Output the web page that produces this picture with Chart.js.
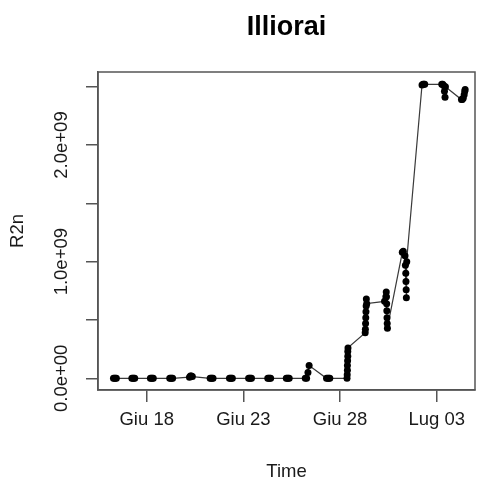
<!DOCTYPE html>
<html><head><meta charset="utf-8">
<script src="https://cdn.jsdelivr.net/npm/chart.js@4"></script>
<style>html,body{margin:0;padding:0;background:#fff;} canvas{display:block}</style>
</head><body>
<canvas id="c" width="479" height="486"></canvas>
<script>
// Time in fractional days (June = day of month, 31 = Lug 01, 33 = Lug 03)
const times = [
  16.28,16.33,16.38,16.43,
  17.23,17.28,17.33,17.38,
  18.19,18.24,18.29,18.34,
  19.19,19.24,19.29,19.34,
  20.21,20.26,20.31,20.36,
  21.28,21.33,21.38,21.43,
  22.28,22.33,22.38,22.43,
  23.27,23.32,23.37,23.42,
  24.26,24.31,24.36,24.41,
  25.22,25.27,25.32,25.37,
  26.20,26.27,26.34,26.40,
  27.30,27.36,27.42,27.47,
  28.36,28.37,28.38,28.38,28.39,28.40,28.40,28.41,
  29.30,29.31,29.32,29.33,29.34,29.35,29.36,29.38,
  30.30,30.37,30.39,30.40,30.41,30.42,30.43,30.44,30.45,
  31.22,31.27,31.36,31.38,31.40,31.41,31.42,31.43,31.45,
  32.24,32.29,32.34,32.38,
  33.26,33.31,33.36,33.40,33.43,33.45,
  34.28,34.32,34.37,34.42,34.45,34.47
];
const r2n = [
  0,0,0,0,
  0,0,0,0,
  0,0,0,0,
  0,0,0,0,
  0.01e9,0.02e9,0.02e9,0.015e9,
  0,0,0,0,
  0,0,0,0,
  0,0,0,0,
  0,0,0,0,
  0,0,0,0,
  0,0,0.05e9,0.11e9,
  0,0,0,0,
  0,0.03e9,0.07e9,0.11e9,0.15e9,0.19e9,0.23e9,0.26e9,
  0.39e9,0.42e9,0.47e9,0.52e9,0.57e9,0.62e9,0.68e9,0.64e9,
  0.66e9,0.70e9,0.74e9,0.70e9,0.64e9,0.58e9,0.52e9,0.47e9,0.43e9,
  1.08e9,1.09e9,1.05e9,0.97e9,0.90e9,0.83e9,0.76e9,0.69e9,1.00e9,
  2.515e9,2.52e9,2.52e9,2.52e9,
  2.52e9,2.52e9,2.51e9,2.46e9,2.41e9,2.50e9,
  2.39e9,2.39e9,2.40e9,2.43e9,2.46e9,2.475e9
];
const xTickValues = [18, 23, 28, 33];
const xTickLabels = ['Giu 18', 'Giu 23', 'Giu 28', 'Lug 03'];
const yTickValues = [0, 0.5e9, 1e9, 1.5e9, 2e9, 2.5e9];
const yTickLabels = ['0.0e+00', '', '1.0e+09', '', '2.0e+09', ''];

const points = times.map((t, i) => ({x: t, y: r2n[i]}));
const FONT = "'Liberation Sans', Arial, Helvetica, sans-serif";
const AXIS = '#555';
const TXT = '#1a1a1a';

const boxPlugin = {
  id: 'box',
  afterDraw(chart) {
    const {ctx, chartArea: a} = chart;
    ctx.save();
    ctx.strokeStyle = AXIS;
    ctx.lineWidth = 1.5;
    ctx.strokeRect(a.left, a.top, a.right - a.left, a.bottom - a.top);
    ctx.restore();
  }
};

new Chart(document.getElementById('c'), {
  type: 'line',
  data: {datasets: [{
    data: points,
    borderColor: '#3a3a3a', borderWidth: 1.2,
    pointRadius: 3.5, pointHoverRadius: 3.5,
    pointBackgroundColor: '#000', pointBorderColor: '#000', pointBorderWidth: 0,
    tension: 0, fill: false
  }]},
  options: {
    responsive: false, devicePixelRatio: 1, animation: false,
    layout: {padding: {left: 0, right: 4, top: 0, bottom: 0}},
    plugins: {
      legend: {display: false},
      tooltip: {enabled: false},
      title: {
        display: true, text: 'Illiorai', fullSize: false, color: '#000',
        font: {family: FONT, size: 27, weight: 'bold', lineHeight: 1.2},
        padding: {top: 11, bottom: 28.6}
      }
    },
    scales: {
      x: {
        type: 'linear', min: 15.48, max: 34.98,
        afterBuildTicks(s) { s.ticks = xTickValues.map(v => ({value: v})); },
        ticks: {
          callback: (v) => { const i = xTickValues.indexOf(v); return i >= 0 ? xTickLabels[i] : ''; },
          autoSkip: false, maxRotation: 0, minRotation: 0, padding: 7,
          color: TXT, font: {family: FONT, size: 18.5}
        },
        grid: {display: true, drawOnChartArea: false, drawTicks: true, tickLength: 12, color: AXIS, lineWidth: 1.5},
        border: {display: true, color: AXIS, width: 1.5},
        title: {display: true, text: 'Time', color: TXT, font: {family: FONT, size: 18.5}, padding: {top: 0, bottom: 3}},
        afterFit(s) { s.height = 96; }
      },
      y: {
        type: 'linear', min: -0.1e9, max: 2.626e9,
        afterBuildTicks(s) { s.ticks = yTickValues.map(v => ({value: v})); },
        ticks: {
          callback: (v) => { const i = yTickValues.indexOf(v); return i >= 0 ? yTickLabels[i] : ''; },
          autoSkip: false, minRotation: 90, maxRotation: 90, crossAlign: 'center', padding: -10,
          color: TXT, font: {family: FONT, size: 18.5}
        },
        grid: {display: true, drawOnChartArea: false, drawTicks: true, tickLength: 12, color: AXIS, lineWidth: 1.5},
        border: {display: true, color: AXIS, width: 1.5},
        title: {display: true, text: 'R2n', color: TXT, font: {family: FONT, size: 18.5}, padding: {top: 6.5, bottom: 0}},
        afterFit(s) { s.width = 98; }
      }
    }
  },
  plugins: [boxPlugin]
});
</script>
</body></html>
